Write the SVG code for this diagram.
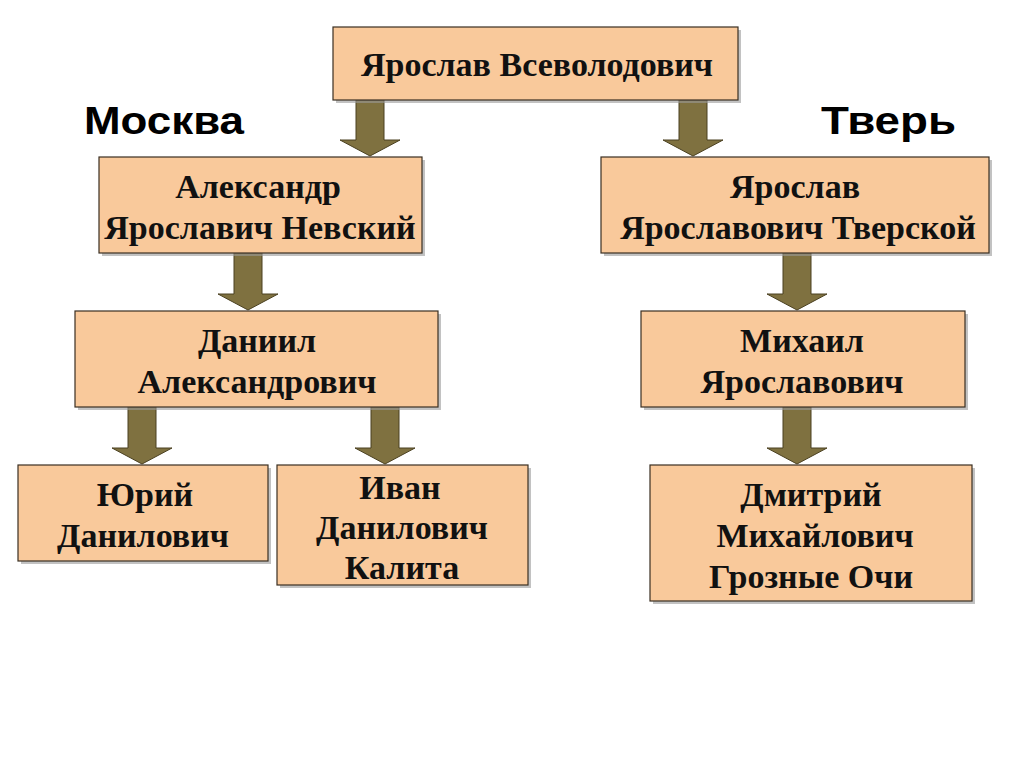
<svg xmlns="http://www.w3.org/2000/svg" width="1024" height="767" viewBox="0 0 1024 767">
<defs>
<style>
.box{fill:#F9C99B;stroke:#3a2f22;stroke-width:1.2}
.sh{fill:#9a9a9a;opacity:0.6}
.t{font-family:"Liberation Serif","Times New Roman",serif;font-weight:bold;font-size:34px;fill:#111;text-anchor:middle}
.lbl{font-family:"Liberation Sans",Arial,sans-serif;font-weight:bold;font-size:38px;fill:#000}
.arr{fill:#7F7140;stroke:#4a4020;stroke-width:1}
</style>
</defs>
<rect width="1024" height="767" fill="#ffffff"/>
<text class="lbl" x="84" y="134" textLength="160" lengthAdjust="spacingAndGlyphs">Москва</text>
<text class="lbl" x="821" y="134" textLength="135" lengthAdjust="spacingAndGlyphs">Тверь</text>
<g id="connectors">
<path class="arr" d="M356,100 H384 V140 H400 L370,156 L340,140 H356 Z"/>
<path class="arr" d="M679,100 H707 V140 H723 L693,156 L663,140 H679 Z"/>
<path class="arr" d="M234,253 H262 V294 H278 L248,310 L218,294 H234 Z"/>
<path class="arr" d="M783,253 H811 V294 H827 L797,310 L767,294 H783 Z"/>
<path class="arr" d="M128,407 H156 V448 H172 L142,464 L112,448 H128 Z"/>
<path class="arr" d="M371,407 H399 V448 H415 L385,464 L355,448 H371 Z"/>
<path class="arr" d="M783,407 H811 V448 H827 L797,464 L767,448 H783 Z"/>
</g>
<g id="n-yaroslav-vsevolodovich">
<rect class="sh" x="336" y="30" width="405" height="73"/>
<rect class="box" x="333" y="27" width="405" height="73"/>
<text class="t" x="537" y="76">Ярослав Всеволодович</text>
</g>
<g id="n-alexander">
<rect class="sh" x="102" y="160" width="323" height="96"/>
<rect class="box" x="99" y="157" width="323" height="96"/>
<text class="t" x="258" y="198">Александр</text>
<text class="t" x="260" y="239">Ярославич Невский</text>
</g>
<g id="n-yaroslav-tverskoy">
<rect class="sh" x="604" y="160" width="388" height="96"/>
<rect class="box" x="601" y="157" width="388" height="96"/>
<text class="t" x="795" y="198">Ярослав</text>
<text class="t" x="798" y="239">Ярославович Тверской</text>
</g>
<g id="n-daniil">
<rect class="sh" x="78" y="314" width="363" height="96"/>
<rect class="box" x="75" y="311" width="363" height="96"/>
<text class="t" x="257" y="352">Даниил</text>
<text class="t" x="257" y="393">Александрович</text>
</g>
<g id="n-mikhail">
<rect class="sh" x="644" y="314" width="324" height="96"/>
<rect class="box" x="641" y="311" width="324" height="96"/>
<text class="t" x="802" y="352">Михаил</text>
<text class="t" x="802" y="393">Ярославович</text>
</g>
<g id="n-yuri">
<rect class="sh" x="21" y="468" width="250" height="96"/>
<rect class="box" x="18" y="465" width="250" height="96"/>
<text class="t" x="145" y="506">Юрий</text>
<text class="t" x="143" y="547">Данилович</text>
</g>
<g id="n-ivan">
<rect class="sh" x="280" y="468" width="251" height="120"/>
<rect class="box" x="277" y="465" width="251" height="120"/>
<text class="t" x="400" y="499">Иван</text>
<text class="t" x="402" y="539">Данилович</text>
<text class="t" x="402" y="579">Калита</text>
</g>
<g id="n-dmitry">
<rect class="sh" x="653" y="468" width="322" height="136"/>
<rect class="box" x="650" y="465" width="322" height="136"/>
<text class="t" x="811" y="506">Дмитрий</text>
<text class="t" x="815" y="547">Михайлович</text>
<text class="t" x="811" y="588">Грозные Очи</text>
</g>
</svg>
